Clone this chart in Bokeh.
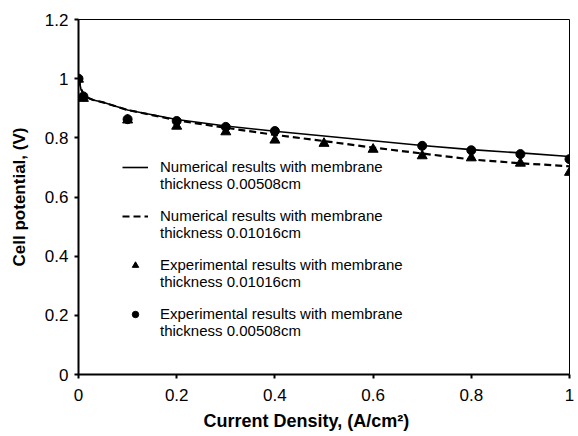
from bokeh.plotting import figure
from bokeh.models import Range1d, FixedTicker, CustomJSTickFormatter, Legend, LegendItem, Title
from bokeh.embed import file_html
from bokeh.resources import INLINE

# Numerical model curves
x_num = [0, 0.005, 0.01, 0.02, 0.03, 0.05, 0.1, 0.15, 0.2, 0.3, 0.4, 0.5, 0.6, 0.7, 0.8, 0.9, 1.0]
num_00508 = [1.0, 0.965, 0.95, 0.935, 0.928, 0.92, 0.894, 0.878, 0.862, 0.84, 0.822, 0.806, 0.79, 0.774, 0.76, 0.749, 0.737]
num_01016 = [1.0, 0.965, 0.95, 0.935, 0.928, 0.92, 0.894, 0.877, 0.859, 0.834, 0.81, 0.789, 0.767, 0.747, 0.727, 0.714, 0.704]

# Experimental data
x_exp_01016 = [0, 0.01, 0.1, 0.2, 0.3, 0.4, 0.5, 0.6, 0.7, 0.8, 0.9, 1.0]
exp_01016 = [0.998, 0.933, 0.86, 0.839, 0.82, 0.792, 0.781, 0.761, 0.739, 0.732, 0.714, 0.683]
x_exp_00508 = [0, 0.01, 0.1, 0.2, 0.3, 0.4, 0.7, 0.8, 0.9, 1.0]
exp_00508 = [1.0, 0.94, 0.863, 0.857, 0.837, 0.823, 0.773, 0.758, 0.745, 0.728]

x_ticks = [0, 0.2, 0.4, 0.6, 0.8, 1.0]
y_ticks = [0, 0.2, 0.4, 0.6, 0.8, 1.0, 1.2]

x_title = "Current Density, (A/cm²)"
y_title = "Cell potential, (V)"

labels_line1 = [
    "Numerical results with membrane",
    "Numerical results with membrane",
    "Experimental results with membrane",
    "Experimental results with membrane",
]
labels_line2 = [
    "thickness 0.00508cm",
    "thickness 0.01016cm",
    "thickness 0.01016cm",
    "thickness 0.00508cm",
]

FONT = "Liberation Sans"

p = figure(width=578, height=436, output_backend="svg", toolbar_location=None,
           x_range=Range1d(0, 1), y_range=Range1d(0, 1.2),
           min_border_left=78, min_border_right=9, min_border_top=19, min_border_bottom=61)
p.background_fill_color = "white"
p.border_fill_color = "white"
p.outline_line_color = "black"
p.outline_line_width = 1
p.xgrid.visible = False
p.ygrid.visible = False

fmt = CustomJSTickFormatter(code="return (Math.round(tick*10)/10).toString();")
for ax, ticks in ((p.xaxis[0], x_ticks), (p.yaxis[0], y_ticks)):
    ax.ticker = FixedTicker(ticks=ticks)
    ax.formatter = fmt
    ax.axis_line_width = 2
    ax.axis_line_color = "black"
    ax.major_tick_line_width = 2
    ax.major_tick_in = 0
    ax.major_tick_out = 4
    ax.minor_tick_line_color = None
    ax.major_label_text_font = FONT
    ax.major_label_text_font_size = "17px"
    ax.major_label_text_color = "black"
    ax.axis_label_text_font = FONT
    ax.axis_label_text_font_style = "bold"
    ax.axis_label_text_color = "black"

p.yaxis.axis_label = y_title
p.yaxis.axis_label_text_font_size = "17px"
p.xaxis.major_label_standoff = 10
p.yaxis.major_label_standoff = 6
p.yaxis.axis_label_standoff = 13

xt = Title(text=x_title, align="left", offset=125, standoff=11,
           text_font=FONT, text_font_size="18px", text_font_style="bold", text_color="black")
p.add_layout(xt, "below")

r1 = p.line(x_num, num_00508, line_color="black", line_width=1.6)
r2 = p.line(x_num, num_01016, line_color="black", line_width=2.2, line_dash="7 4")
r3 = p.scatter(x_exp_01016, exp_01016, marker="triangle", size=10, color="black")
r4 = p.scatter(x_exp_00508, exp_00508, marker="circle", size=9, color="black")
# invisible renderer, used only to carry the second line of each legend label
r_blank = p.scatter([], [], marker="circle", size=1, alpha=0)

def style_legend(lg):
    lg.border_line_color = None
    lg.background_fill_alpha = 0
    lg.margin = 0
    lg.padding = 0
    lg.spacing = 32
    lg.glyph_width = 26
    lg.glyph_height = 16
    lg.label_height = 16
    lg.label_standoff = 12
    lg.label_text_font = FONT
    lg.label_text_font_size = "15px"
    lg.label_text_color = "black"

legend1 = Legend(items=[LegendItem(label=labels_line1[0], renderers=[r1]),
                        LegendItem(label=labels_line1[1], renderers=[r2]),
                        LegendItem(label=labels_line1[2], renderers=[r3]),
                        LegendItem(label=labels_line1[3], renderers=[r4])],
                 location=(44, 52))
legend2 = Legend(items=[LegendItem(label=t, renderers=[r_blank]) for t in labels_line2],
                 location=(44, 35))
style_legend(legend1)
style_legend(legend2)
p.add_layout(legend1)
p.add_layout(legend2)

open("out.html", "w").write(file_html(p, INLINE))
